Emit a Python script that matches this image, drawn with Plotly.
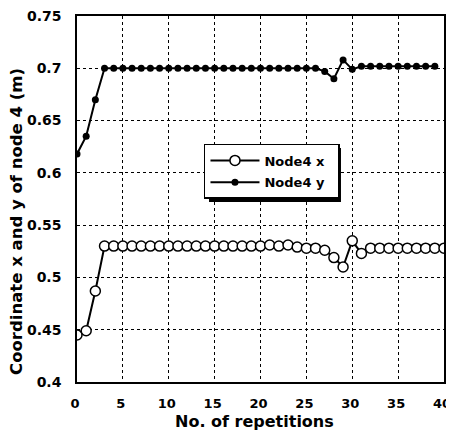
import plotly.graph_objects as go

repetitions = list(range(0, 41))
node4_x = [0.445, 0.449, 0.487] + [0.530] * 18 + [0.531, 0.530, 0.531, 0.529, 0.528, 0.528, 0.526, 0.519, 0.510, 0.535, 0.523] + [0.528] * 9
node4_y = [0.618, 0.635, 0.670] + [0.700] * 24 + [0.697, 0.690, 0.708, 0.699] + [0.702] * 9
x_ticks = [0, 5, 10, 15, 20, 25, 30, 35, 40]
y_ticks = [0.4, 0.45, 0.5, 0.55, 0.6, 0.65, 0.7, 0.75]
y_tick_labels = ["0.4", "0.45", "0.5", "0.55", "0.6", "0.65", "0.7", "0.75"]
x_title = "No. of repetitions"
y_title = "Coordinate x and y of node 4 (m)"

FONT = "DejaVu Sans, Verdana, sans-serif"

fig = go.Figure()
fig.add_trace(go.Scatter(
    x=repetitions, y=node4_x, mode="lines+markers", name="<b>Node4 x</b>&nbsp;&nbsp;",
    legendgroup="a",
    line=dict(color="black", width=2),
    marker=dict(symbol="circle", size=10, color="white", line=dict(color="black", width=1.5)),
))
fig.add_trace(go.Scatter(
    x=repetitions, y=node4_y, mode="lines+markers", name="<b>Node4 y</b>&nbsp;&nbsp;",
    legendgroup="b",
    line=dict(color="black", width=2),
    marker=dict(symbol="circle", size=7, color="black"),
))

# legend drop shadow
fig.add_shape(type="rect", xref="paper", yref="paper", x0=0.3597, x1=0.7193, y0=0.4918, y1=0.6393,
              fillcolor="black", line=dict(width=0), layer="above")

fig.add_annotation(text="<b>%s</b>" % x_title, xref="paper", yref="paper", x=0.4837, y=-0.1085,
                   xanchor="center", yanchor="middle", showarrow=False,
                   font=dict(family=FONT, size=16, color="black"))
fig.add_annotation(text="<b>%s</b>" % y_title, xref="paper", yref="paper", x=-0.1635, y=0.44,
                   xanchor="center", yanchor="middle", showarrow=False, textangle=-90,
                   font=dict(family=FONT, size=16.5, color="black"))

fig.update_layout(
    width=446, height=427,
    margin=dict(l=69, r=10, t=8, b=53, autoexpand=False),
    paper_bgcolor="white", plot_bgcolor="white",
    font=dict(family=FONT, color="black", size=13),
    showlegend=True,
    legend=dict(x=0.346, y=0.6503, xanchor="left", yanchor="top",
                bgcolor="white", bordercolor="black", borderwidth=1.5,
                font=dict(family=FONT, size=13, color="black"),
                tracegroupgap=2, itemwidth=49),
    xaxis=dict(range=[0, 40], tickvals=x_ticks, ticktext=["<b>%d</b>" % v for v in x_ticks],
               showgrid=True, gridcolor="black", griddash="dot", gridwidth=1,
               showline=True, linecolor="black", linewidth=1.5, mirror=True,
               ticks="", ticklabelstandoff=9, ticklabelshift=-2, ticklabeloverflow="allow",
               zeroline=False, automargin=False,
               tickfont=dict(family=FONT, size=13, color="black")),
    yaxis=dict(range=[0.4, 0.75], tickvals=y_ticks, ticktext=["<b>%s</b>" % t for t in y_tick_labels],
               showgrid=True, gridcolor="black", griddash="dot", gridwidth=1,
               showline=True, linecolor="black", linewidth=1.5, mirror=True,
               ticks="", ticklabelstandoff=11, ticklabeloverflow="allow",
               zeroline=False, automargin=False,
               tickfont=dict(family=FONT, size=14, color="black")),
)

fig.write_html("out.html")
